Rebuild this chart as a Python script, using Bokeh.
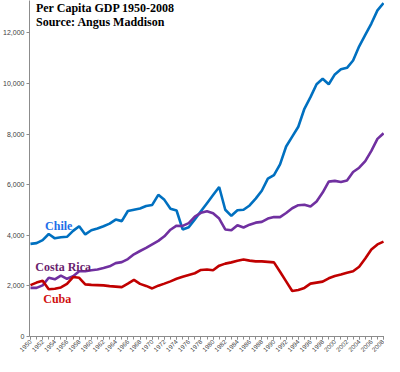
import math
from bokeh.plotting import figure
from bokeh.models import FixedTicker, NumeralTickFormatter, Label
from bokeh.embed import file_html
from bokeh.resources import INLINE

years = list(range(1950, 2009))

chile = [3660, 3690, 3810, 4050, 3880, 3920, 3940, 4175, 4360, 4035,
         4200, 4270, 4360, 4460, 4620, 4560, 4960, 5010, 5060, 5160,
         5200, 5600, 5400, 5050, 4980, 4230, 4320, 4630, 4950, 5270,
         5590, 5910, 5010, 4770, 4990, 5010, 5180, 5450, 5760, 6240,
         6380, 6800, 7510, 7900, 8290, 9000, 9460, 9970, 10190, 9970,
         10360, 10560, 10620, 10910, 11470, 11920, 12370, 12890, 13180]

costa_rica = [1920, 1920, 2020, 2320, 2260, 2410, 2280, 2385, 2580, 2580,
              2620, 2650, 2710, 2775, 2900, 2940, 3060, 3250, 3380, 3500,
              3640, 3780, 3960, 4220, 4380, 4370, 4480, 4740, 4890, 4950,
              4870, 4660, 4230, 4200, 4400, 4310, 4420, 4500, 4530, 4660,
              4720, 4720, 4880, 5070, 5190, 5210, 5140, 5340, 5690, 6120,
              6150, 6110, 6170, 6500, 6670, 6930, 7340, 7810, 8030]

cuba = [2030, 2130, 2200, 1870, 1890, 1940, 2080, 2350, 2320, 2060,
        2040, 2030, 2020, 1990, 1970, 1950, 2090, 2240, 2080, 2000,
        1900, 2010, 2090, 2180, 2280, 2360, 2430, 2500, 2630, 2650,
        2620, 2800, 2880, 2930, 2990, 3040, 3000, 2970, 2970, 2950,
        2930, 2560, 2180, 1800, 1840, 1920, 2090, 2130, 2170, 2300,
        2390, 2450, 2520, 2580, 2760, 3080, 3440, 3640, 3750]

y_ticks = [0, 2000, 4000, 6000, 8000, 10000, 12000]
x_label_years = list(range(1950, 2009, 2))

title_lines = ["Per Capita GDP 1950-2008", "Source: Angus Maddison"]

p = figure(width=384, height=356, output_backend="svg", toolbar_location=None,
           x_range=(1949.84, 2008.16), y_range=(0, 13280),
           min_border_left=0, min_border_right=0, min_border_top=0,
           min_border_bottom=0)
p.outline_line_color = None
p.grid.visible = False
p.background_fill_color = "white"

p.line(years, chile, line_color="#0070C0", line_width=2.6)
p.line(years, costa_rica, line_color="#7030A0", line_width=2.6)
p.line(years, cuba, line_color="#C00000", line_width=2.6)

# axes
yax = p.yaxis[0]
yax.ticker = FixedTicker(ticks=y_ticks)
yax.formatter = NumeralTickFormatter(format="0,0")
yax.axis_line_color = "#8c8c8c"
yax.major_tick_line_color = "#8c8c8c"
yax.major_tick_out = 3
yax.major_tick_in = 0
yax.minor_tick_out = 0
yax.minor_tick_in = 0
yax.major_label_standoff = 2
yax.major_label_text_font = "Liberation Sans"
yax.major_label_text_font_size = "7px"
yax.major_label_text_color = "#404040"
yax.axis_label = None

xax = p.xaxis[0]
xax.ticker = FixedTicker(ticks=x_label_years, minor_ticks=years)
xax.axis_label = None
xax.axis_label_standoff = 0
xax.axis_line_color = "#8c8c8c"
xax.major_tick_line_color = "#8c8c8c"
xax.minor_tick_line_color = "#8c8c8c"
xax.major_tick_out = 3
xax.major_tick_in = 0
xax.minor_tick_out = 3
xax.minor_tick_in = 0
xax.major_label_standoff = 1
xax.major_label_orientation = math.pi / 4
xax.major_label_text_font = "Liberation Sans"
xax.major_label_text_font_size = "6.3px"
xax.major_label_text_line_height = 0.8
xax.major_label_text_color = "#404040"

# title
for txt, yv in zip(title_lines, [12990, 12450]):
    p.add_layout(Label(x=1950.9, y=yv, text=txt, text_font="Liberation Serif",
                       text_font_style="bold", text_font_size="12px",
                       text_color="black", text_baseline="alphabetic"))

# series labels
for txt, xv, yv, col in [("Chile", 1952.4, 4380, "#1F6FE8"),
                         ("Costa Rica", 1950.8, 2760, "#6A1E6E"),
                         ("Cuba", 1952.1, 1480, "#D01010")]:
    p.add_layout(Label(x=xv, y=yv, text=txt, text_font="Liberation Serif",
                       text_font_style="bold", text_font_size="12px",
                       text_color=col, text_baseline="alphabetic"))

open("out.html", "w").write(file_html(p, INLINE))
